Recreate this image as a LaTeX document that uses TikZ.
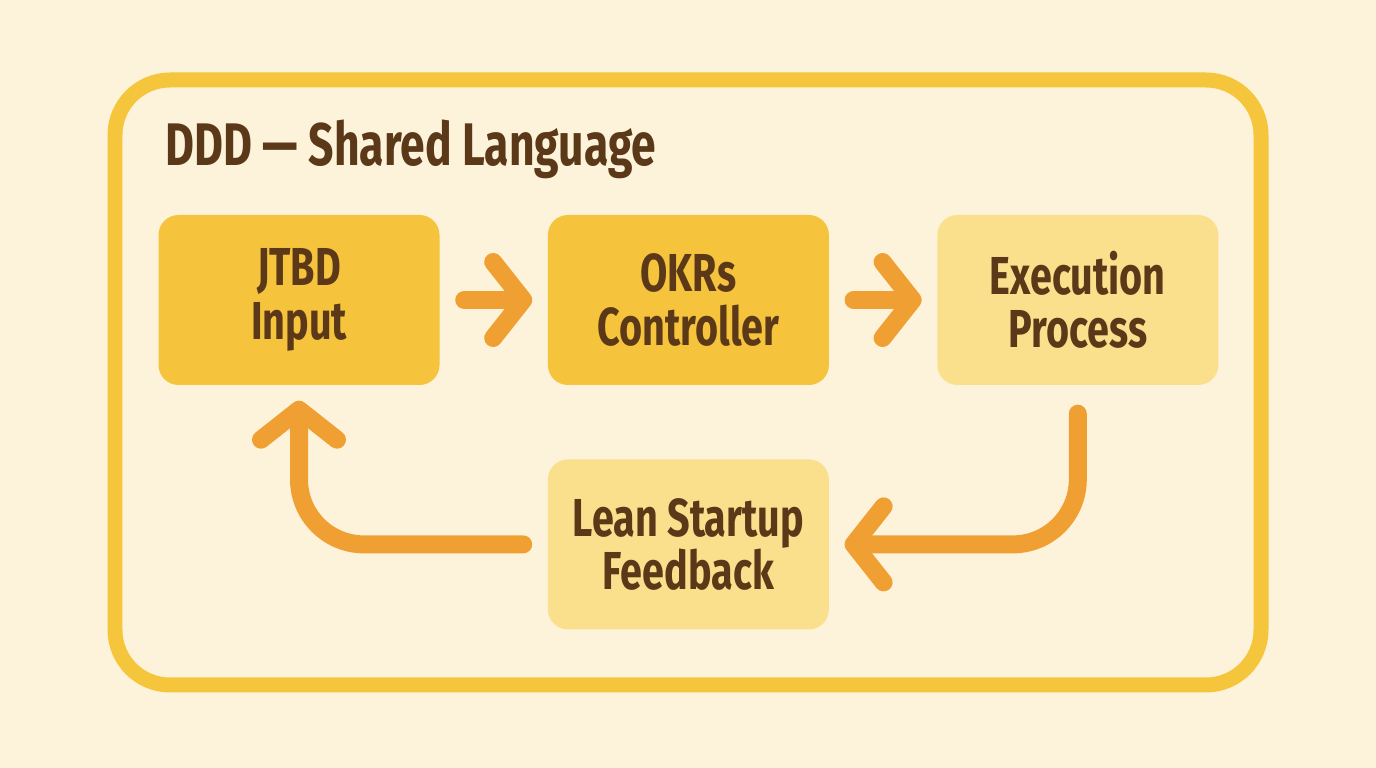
\documentclass[tikz,border=0pt]{standalone}
\usepackage{fontspec}
\setmainfont{Fira Sans}[FakeStretch=0.74]
\usepackage{tikz}
\usetikzlibrary{arrows.meta,positioning}
\definecolor{cream}{HTML}{FDF3DB}
\definecolor{frameyel}{HTML}{F5C53C}
\definecolor{boxdark}{HTML}{F5C33C}
\definecolor{boxlight}{HTML}{FAE08C}
\definecolor{flowor}{HTML}{F0A032}
\definecolor{inkbrown}{HTML}{5A3818}

\begin{document}
\begin{tikzpicture}[
  node distance=1.07cm,
  every node/.style={font=\fontsize{15.2}{15.2}\selectfont\bfseries,text=inkbrown},
  stage/.style={rounded corners=0.2cm,align=center,minimum width=2.81cm,minimum height=1.7cm,fill=boxdark},
  soft/.style={stage,fill=boxlight},
  flow/.style={flowor,line width=0.18cm,line cap=round,rounded corners=0.65cm,
    -{Straight Barb[length=0.3cm,width=0.76cm,round]}}
]
\fill[cream] (0,0) rectangle (13.76,7.68);
\useasboundingbox (0,0) rectangle (13.76,7.68);
\draw[frameyel,line width=0.15cm,rounded corners=0.55cm] (1.15,0.83) rectangle (12.61,6.88);
\node[anchor=base west,font=\fontsize{17.1}{19}\selectfont\bfseries] (title) at (1.53,6.02) {DDD --- Shared Language};
\node[stage] (jtbd) at (2.99,4.68) {JTBD\\Input};
\node[stage,right=of jtbd] (okrs) {OKRs\\Controller};
\node[soft,right=of okrs] (exec) {Execution\\Process};
\node[soft,below=0.73cm of okrs] (lean) {Lean Startup\\Feedback};
\draw[flow,shorten <=0.24cm,shorten >=0.15cm] (jtbd)--(okrs);
\draw[flow,shorten <=0.24cm,shorten >=0.15cm] (okrs)--(exec);
\draw[flow,shorten >=0.15cm] ([yshift=-0.28cm]exec.south) |- (lean.east);
\draw[flow,shorten >=0.15cm] ([xshift=-0.24cm]lean.west) -| (jtbd.south);
\end{tikzpicture}
\end{document}
